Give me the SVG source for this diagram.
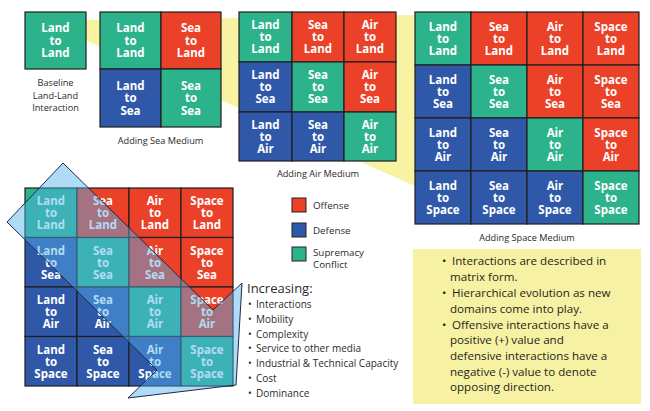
<svg xmlns="http://www.w3.org/2000/svg" width="650" height="411" viewBox="0 0 650 411">
<style>
.g{fill:#2db38b}.r{fill:#ea4128}.b{fill:#3058a8}
.cell rect{stroke:#1e1e1e;stroke-width:1.2}
.lbl{font-family:'Open Sans','Noto Sans',sans-serif;font-weight:700;font-size:11.5px;fill:#fff;text-anchor:middle}
.cap{font-family:'Open Sans','Noto Sans',sans-serif;font-size:9.2px;fill:#2b2b2b;text-anchor:middle}
.leg{font-family:'Open Sans','Noto Sans',sans-serif;font-size:9.8px;fill:#2b2b2b}
.inc{font-family:'Open Sans','Noto Sans',sans-serif;font-size:10px;fill:#2b2b2b}
.box{font-family:'Open Sans','Noto Sans',sans-serif;font-size:11.6px;fill:#231f20}
.legsq{stroke:#222;stroke-width:1}
</style>
<rect width="650" height="411" fill="#fff"/>
<polygon id="beam" points="85,20 415,15 415,186 85,40" fill="#f7f3a3"/>

<g id="baseline" class="cell">
<rect class="g" x="25" y="12" width="61" height="57"/>
<text class="lbl" x="55.5" y="32"><tspan x="55.5">Land</tspan><tspan x="55.5" dy="12.5">to</tspan><tspan x="55.5" dy="12.5">Land</tspan></text>
</g>
<g id="baseline-caption"><text class="cap" x="55.5" y="86"><tspan x="55.5">Baseline</tspan><tspan x="55.5" dy="12.5">Land-Land</tspan><tspan x="55.5" dy="12.5">Interaction</tspan></text></g>

<g id="sea-matrix" class="cell">
<g id="sea-LL"><rect class="g" x="100" y="12" width="61" height="57"/><text class="lbl" x="130.5" y="32"><tspan x="130.5">Land</tspan><tspan x="130.5" dy="12.5">to</tspan><tspan x="130.5" dy="12.5">Land</tspan></text></g>
<g id="sea-SL"><rect class="r" x="161" y="12" width="60" height="57"/><text class="lbl" x="191" y="32"><tspan x="191">Sea</tspan><tspan x="191" dy="12.5">to</tspan><tspan x="191" dy="12.5">Land</tspan></text></g>
<g id="sea-LS"><rect class="b" x="100" y="69" width="61" height="58"/><text class="lbl" x="130.5" y="89.5"><tspan x="130.5">Land</tspan><tspan x="130.5" dy="12.5">to</tspan><tspan x="130.5" dy="12.5">Sea</tspan></text></g>
<g id="sea-SS"><rect class="g" x="161" y="69" width="60" height="58"/><text class="lbl" x="191" y="89.5"><tspan x="191">Sea</tspan><tspan x="191" dy="12.5">to</tspan><tspan x="191" dy="12.5">Sea</tspan></text></g>
</g>
<text class="cap" x="160.5" y="144">Adding Sea Medium</text>

<g id="air-matrix" class="cell">
<g id="air-LL"><rect class="g" x="239" y="12" width="53" height="50"/><text class="lbl" x="265.5" y="29"><tspan x="265.5">Land</tspan><tspan x="265.5" dy="12">to</tspan><tspan x="265.5" dy="12">Land</tspan></text></g>
<g id="air-SL"><rect class="r" x="292" y="12" width="52" height="50"/><text class="lbl" x="318" y="29"><tspan x="318">Sea</tspan><tspan x="318" dy="12">to</tspan><tspan x="318" dy="12">Land</tspan></text></g>
<g id="air-AL"><rect class="r" x="344" y="12" width="52" height="50"/><text class="lbl" x="370" y="29"><tspan x="370">Air</tspan><tspan x="370" dy="12">to</tspan><tspan x="370" dy="12">Land</tspan></text></g>
<g id="air-LS"><rect class="b" x="239" y="62" width="53" height="50"/><text class="lbl" x="265.5" y="79"><tspan x="265.5">Land</tspan><tspan x="265.5" dy="12">to</tspan><tspan x="265.5" dy="12">Sea</tspan></text></g>
<g id="air-SS"><rect class="g" x="292" y="62" width="52" height="50"/><text class="lbl" x="318" y="79"><tspan x="318">Sea</tspan><tspan x="318" dy="12">to</tspan><tspan x="318" dy="12">Sea</tspan></text></g>
<g id="air-AS"><rect class="r" x="344" y="62" width="52" height="50"/><text class="lbl" x="370" y="79"><tspan x="370">Air</tspan><tspan x="370" dy="12">to</tspan><tspan x="370" dy="12">Sea</tspan></text></g>
<g id="air-LA"><rect class="b" x="239" y="112" width="53" height="49"/><text class="lbl" x="265.5" y="128.5"><tspan x="265.5">Land</tspan><tspan x="265.5" dy="12">to</tspan><tspan x="265.5" dy="12">Air</tspan></text></g>
<g id="air-SA"><rect class="b" x="292" y="112" width="52" height="49"/><text class="lbl" x="318" y="128.5"><tspan x="318">Sea</tspan><tspan x="318" dy="12">to</tspan><tspan x="318" dy="12">Air</tspan></text></g>
<g id="air-AA"><rect class="g" x="344" y="112" width="52" height="49"/><text class="lbl" x="370" y="128.5"><tspan x="370">Air</tspan><tspan x="370" dy="12">to</tspan><tspan x="370" dy="12">Air</tspan></text></g>
</g>
<text class="cap" x="318" y="177">Adding Air Medium</text>

<g id="space-matrix" class="cell">
<g id="sp-LL"><rect class="g" x="415" y="12" width="56" height="53"/><text class="lbl" x="443" y="30.5"><tspan x="443">Land</tspan><tspan x="443" dy="12">to</tspan><tspan x="443" dy="12">Land</tspan></text></g>
<g id="sp-SL"><rect class="r" x="471" y="12" width="56" height="53"/><text class="lbl" x="499" y="30.5"><tspan x="499">Sea</tspan><tspan x="499" dy="12">to</tspan><tspan x="499" dy="12">Land</tspan></text></g>
<g id="sp-AL"><rect class="r" x="527" y="12" width="56" height="53"/><text class="lbl" x="555" y="30.5"><tspan x="555">Air</tspan><tspan x="555" dy="12">to</tspan><tspan x="555" dy="12">Land</tspan></text></g>
<g id="sp-XL"><rect class="r" x="583" y="12" width="56" height="53"/><text class="lbl" x="611" y="30.5"><tspan x="611">Space</tspan><tspan x="611" dy="12">to</tspan><tspan x="611" dy="12">Land</tspan></text></g>
<g id="sp-LS"><rect class="b" x="415" y="65" width="56" height="53"/><text class="lbl" x="443" y="83.5"><tspan x="443">Land</tspan><tspan x="443" dy="12">to</tspan><tspan x="443" dy="12">Sea</tspan></text></g>
<g id="sp-SS"><rect class="g" x="471" y="65" width="56" height="53"/><text class="lbl" x="499" y="83.5"><tspan x="499">Sea</tspan><tspan x="499" dy="12">to</tspan><tspan x="499" dy="12">Sea</tspan></text></g>
<g id="sp-AS"><rect class="r" x="527" y="65" width="56" height="53"/><text class="lbl" x="555" y="83.5"><tspan x="555">Air</tspan><tspan x="555" dy="12">to</tspan><tspan x="555" dy="12">Sea</tspan></text></g>
<g id="sp-XS"><rect class="r" x="583" y="65" width="56" height="53"/><text class="lbl" x="611" y="83.5"><tspan x="611">Space</tspan><tspan x="611" dy="12">to</tspan><tspan x="611" dy="12">Sea</tspan></text></g>
<g id="sp-LA"><rect class="b" x="415" y="118" width="56" height="53"/><text class="lbl" x="443" y="136.5"><tspan x="443">Land</tspan><tspan x="443" dy="12">to</tspan><tspan x="443" dy="12">Air</tspan></text></g>
<g id="sp-SA"><rect class="b" x="471" y="118" width="56" height="53"/><text class="lbl" x="499" y="136.5"><tspan x="499">Sea</tspan><tspan x="499" dy="12">to</tspan><tspan x="499" dy="12">Air</tspan></text></g>
<g id="sp-AA"><rect class="g" x="527" y="118" width="56" height="53"/><text class="lbl" x="555" y="136.5"><tspan x="555">Air</tspan><tspan x="555" dy="12">to</tspan><tspan x="555" dy="12">Air</tspan></text></g>
<g id="sp-XA"><rect class="r" x="583" y="118" width="56" height="53"/><text class="lbl" x="611" y="136.5"><tspan x="611">Space</tspan><tspan x="611" dy="12">to</tspan><tspan x="611" dy="12">Air</tspan></text></g>
<g id="sp-LX"><rect class="b" x="415" y="171" width="56" height="53"/><text class="lbl" x="443" y="189.5"><tspan x="443">Land</tspan><tspan x="443" dy="12">to</tspan><tspan x="443" dy="12">Space</tspan></text></g>
<g id="sp-SX"><rect class="b" x="471" y="171" width="56" height="53"/><text class="lbl" x="499" y="189.5"><tspan x="499">Sea</tspan><tspan x="499" dy="12">to</tspan><tspan x="499" dy="12">Space</tspan></text></g>
<g id="sp-AX"><rect class="b" x="527" y="171" width="56" height="53"/><text class="lbl" x="555" y="189.5"><tspan x="555">Air</tspan><tspan x="555" dy="12">to</tspan><tspan x="555" dy="12">Space</tspan></text></g>
<g id="sp-XX"><rect class="g" x="583" y="171" width="56" height="53"/><text class="lbl" x="611" y="189.5"><tspan x="611">Space</tspan><tspan x="611" dy="12">to</tspan><tspan x="611" dy="12">Space</tspan></text></g>
</g>
<text class="cap" x="527" y="241">Adding Space Medium</text>

<g id="final-matrix" class="cell">
<g id="f-LL"><rect class="g" x="25" y="188" width="52" height="49.5"/><text class="lbl" x="51" y="205"><tspan x="51">Land</tspan><tspan x="51" dy="12">to</tspan><tspan x="51" dy="12">Land</tspan></text></g>
<g id="f-SL"><rect class="r" x="77" y="188" width="52" height="49.5"/><text class="lbl" x="103" y="205"><tspan x="103">Sea</tspan><tspan x="103" dy="12">to</tspan><tspan x="103" dy="12">Land</tspan></text></g>
<g id="f-AL"><rect class="r" x="129" y="188" width="52" height="49.5"/><text class="lbl" x="155" y="205"><tspan x="155">Air</tspan><tspan x="155" dy="12">to</tspan><tspan x="155" dy="12">Land</tspan></text></g>
<g id="f-XL"><rect class="r" x="181" y="188" width="52" height="49.5"/><text class="lbl" x="207" y="205"><tspan x="207">Space</tspan><tspan x="207" dy="12">to</tspan><tspan x="207" dy="12">Land</tspan></text></g>
<g id="f-LS"><rect class="b" x="25" y="237.5" width="52" height="49.5"/><text class="lbl" x="51" y="254.5"><tspan x="51">Land</tspan><tspan x="51" dy="12">to</tspan><tspan x="51" dy="12">Sea</tspan></text></g>
<g id="f-SS"><rect class="g" x="77" y="237.5" width="52" height="49.5"/><text class="lbl" x="103" y="254.5"><tspan x="103">Sea</tspan><tspan x="103" dy="12">to</tspan><tspan x="103" dy="12">Sea</tspan></text></g>
<g id="f-AS"><rect class="r" x="129" y="237.5" width="52" height="49.5"/><text class="lbl" x="155" y="254.5"><tspan x="155">Air</tspan><tspan x="155" dy="12">to</tspan><tspan x="155" dy="12">Sea</tspan></text></g>
<g id="f-XS"><rect class="r" x="181" y="237.5" width="52" height="49.5"/><text class="lbl" x="207" y="254.5"><tspan x="207">Space</tspan><tspan x="207" dy="12">to</tspan><tspan x="207" dy="12">Sea</tspan></text></g>
<g id="f-LA"><rect class="b" x="25" y="287" width="52" height="49.5"/><text class="lbl" x="51" y="304"><tspan x="51">Land</tspan><tspan x="51" dy="12">to</tspan><tspan x="51" dy="12">Air</tspan></text></g>
<g id="f-SA"><rect class="b" x="77" y="287" width="52" height="49.5"/><text class="lbl" x="103" y="304"><tspan x="103">Sea</tspan><tspan x="103" dy="12">to</tspan><tspan x="103" dy="12">Air</tspan></text></g>
<g id="f-AA"><rect class="g" x="129" y="287" width="52" height="49.5"/><text class="lbl" x="155" y="304"><tspan x="155">Air</tspan><tspan x="155" dy="12">to</tspan><tspan x="155" dy="12">Air</tspan></text></g>
<g id="f-XA"><rect class="r" x="181" y="287" width="52" height="49.5"/><text class="lbl" x="207" y="304"><tspan x="207">Space</tspan><tspan x="207" dy="12">to</tspan><tspan x="207" dy="12">Air</tspan></text></g>
<g id="f-LX"><rect class="b" x="25" y="336.5" width="52" height="49.5"/><text class="lbl" x="51" y="353.5"><tspan x="51">Land</tspan><tspan x="51" dy="12">to</tspan><tspan x="51" dy="12">Space</tspan></text></g>
<g id="f-SX"><rect class="b" x="77" y="336.5" width="52" height="49.5"/><text class="lbl" x="103" y="353.5"><tspan x="103">Sea</tspan><tspan x="103" dy="12">to</tspan><tspan x="103" dy="12">Space</tspan></text></g>
<g id="f-AX"><rect class="b" x="129" y="336.5" width="52" height="49.5"/><text class="lbl" x="155" y="353.5"><tspan x="155">Air</tspan><tspan x="155" dy="12">to</tspan><tspan x="155" dy="12">Space</tspan></text></g>
<g id="f-XX"><rect class="g" x="181" y="336.5" width="52" height="49.5"/><text class="lbl" x="207" y="353.5"><tspan x="207">Space</tspan><tspan x="207" dy="12">to</tspan><tspan x="207" dy="12">Space</tspan></text></g>
</g>

<g id="connectors">
<polygon id="diagonal-arrow" points="63,163 213,310 242,283 236,385 128,398 157,370 7,222" fill="#4fb0ea" fill-opacity="0.45" stroke="#1b2b4a" stroke-width="1" stroke-linejoin="miter"/>
</g>

<g id="legend">
<rect class="legsq r" x="292" y="198" width="14" height="14"/>
<text class="leg" x="313" y="209">Offense</text>
<rect class="legsq b" x="292" y="223" width="14" height="14"/>
<text class="leg" x="313" y="234">Defense</text>
<rect class="legsq g" x="292" y="247" width="14" height="14"/>
<text class="leg" x="313" y="256"><tspan x="313">Supremacy</tspan><tspan x="313" dy="12">Conflict</tspan></text>
</g>

<g id="increasing">
<text x="247" y="293" font-family="'Open Sans','Noto Sans',sans-serif" font-size="13" fill="#2b2b2b">Increasing:</text>
<g class="inc">
<text x="248" y="308">•</text><text x="256" y="308">Interactions</text>
<text x="248" y="322.7">•</text><text x="256" y="322.7">Mobility</text>
<text x="248" y="337.5">•</text><text x="256" y="337.5">Complexity</text>
<text x="248" y="352.2">•</text><text x="256" y="352.2">Service to other media</text>
<text x="248" y="367">•</text><text x="256" y="367">Industrial &amp; Technical Capacity</text>
<text x="248" y="381.7">•</text><text x="256" y="381.7">Cost</text>
<text x="248" y="396.5">•</text><text x="256" y="396.5">Dominance</text>
</g>
</g>

<g id="notes">
<rect x="413" y="249" width="228" height="155" fill="#f7f2a3"/>
<g class="box">
<text x="442" y="265">•</text><text x="452" y="265">Interactions are described in</text>
<text x="450" y="281">matrix form.</text>
<text x="442" y="297">•</text><text x="452" y="297">Hierarchical evolution as new</text>
<text x="450" y="312.5">domains come into play.</text>
<text x="442" y="328.5">•</text><text x="452" y="328.5">Offensive interactions have a</text>
<text x="450" y="344">positive (+) value and</text>
<text x="450" y="360">defensive interactions have a</text>
<text x="450" y="376">negative (-) value to denote</text>
<text x="450" y="391">opposing direction.</text>
</g>
</g>
</svg>
